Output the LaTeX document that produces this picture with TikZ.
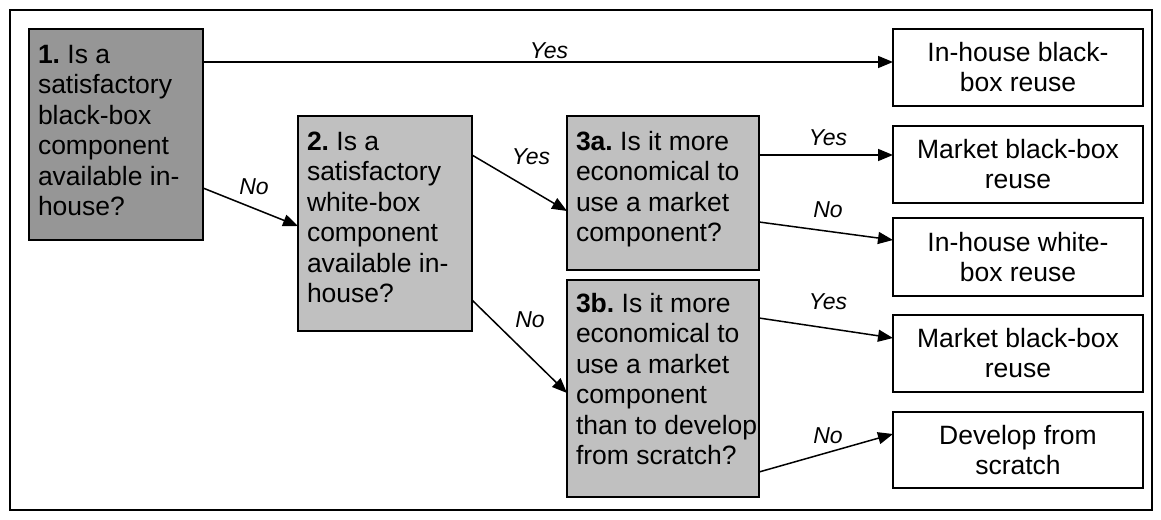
\documentclass[tikz,border=0pt]{standalone}
\usepackage{fontspec}
\setmainfont{Liberation Sans}
\usetikzlibrary{arrows.meta}
\definecolor{darkq}{RGB}{150,150,150}
\definecolor{lightq}{RGB}{192,192,192}
\frenchspacing
\begin{document}
\begin{tikzpicture}[x=1pt,y=-1pt,
  qbox/.style={draw=black,line width=1.5pt,outer sep=0pt,inner sep=0pt,anchor=north west},
  qtext/.style={anchor=north west,inner sep=0pt,outer sep=0pt,align=left,
    font=\fontsize{26.5}{30.5}\selectfont},
  outcome/.style={draw=black,line width=1.5pt,outer sep=0pt,inner sep=0pt,anchor=north west,
    minimum width=250pt,align=center,font=\fontsize{26.5}{30}\selectfont},
  arr/.style={line width=1.5pt,-{Triangle[length=15pt,width=12pt]}},
  ans/.style={font=\fontsize{23}{27}\selectfont\itshape,inner sep=0pt}]
\useasboundingbox (0,0) rectangle (1161,519);
% outer frame
\draw[line width=1.2pt] (10,10) rectangle (1152,510);

% question boxes
\node[qbox,fill=darkq,minimum width=174pt,minimum height=211pt] (b1) at (29,29) {};
\node[qbox,fill=lightq,minimum width=174pt,minimum height=215pt] (b2) at (298,116) {};
\node[qbox,fill=lightq,minimum width=192pt,minimum height=154pt] (b3a) at (567,116) {};
\node[qbox,fill=lightq,minimum width=192pt,minimum height=217pt] (b3b) at (567,280) {};

\node[qtext] (t1) at ([shift={(9pt,-12pt)}]b1.north west)
  {\rule{0pt}{22pt}\textbf{1.} Is a\\satisfactory\\black-box\\component\\available in-\\house?};
\node[qtext] (t2) at ([shift={(9pt,-12pt)}]b2.north west)
  {\rule{0pt}{22pt}\textbf{2.} Is a\\satisfactory\\white-box\\component\\available in-\\house?};
\node[qtext] (t3a) at ([shift={(9pt,-12pt)}]b3a.north west)
  {\rule{0pt}{22pt}\textbf{3a.} Is it more\\economical to\\use a market\\component?};
\node[qtext] (t3b) at ([shift={(9pt,-10pt)}]b3b.north west)
  {\rule{0pt}{22pt}\textbf{3b.} Is it more\\economical to\\use a market\\component\\than to develop\\from scratch?};

% outcome boxes
\node[outcome,minimum height=77pt] (r1) at (893,29) {In-house black-\\box reuse};
\node[outcome,minimum height=77pt] (r2) at (893,126) {Market black-box\\reuse};
\node[outcome,minimum height=78pt] (r3) at (893,218) {In-house white-\\box reuse};
\node[outcome,minimum height=77pt] (r4) at (893,315) {Market black-box\\reuse};
\node[outcome,minimum height=76pt] (r5) at (893,412) {Develop from\\scratch};

% connectors
\draw[arr] ([yshift=-33pt]b1.north east) -- ([yshift=-33pt]r1.north west);
\draw[arr] ([yshift=-159pt]b1.north east) -- ([yshift=-110pt]b2.north west);
\draw[arr] ([yshift=-39pt]b2.north east) -- ([yshift=-95pt]b3a.north west);
\draw[arr] ([yshift=-184pt]b2.north east) -- ([yshift=-113pt]b3b.north west);
\draw[arr] ([yshift=-39pt]b3a.north east) -- ([yshift=-29pt]r2.north west);
\draw[arr] ([yshift=-106pt]b3a.north east) -- ([yshift=-22pt]r3.north west);
\draw[arr] ([yshift=-38pt]b3b.north east) -- ([yshift=-23pt]r4.north west);
\draw[arr] ([yshift=-192pt]b3b.north east) -- ([yshift=-22pt]r5.north west);

% answer labels
\node[ans] (y1) at (549,51) {Yes};
\node[ans] (n1) at (254,187) {No};
\node[ans] (y2) at (531,157) {Yes};
\node[ans] (n2) at (530,320) {No};
\node[ans] (y3) at (828,138) {Yes};
\node[ans] (n3) at (828,210) {No};
\node[ans] (y4) at (828,302) {Yes};
\node[ans] (n4) at (828,436) {No};
\end{tikzpicture}
\end{document}
